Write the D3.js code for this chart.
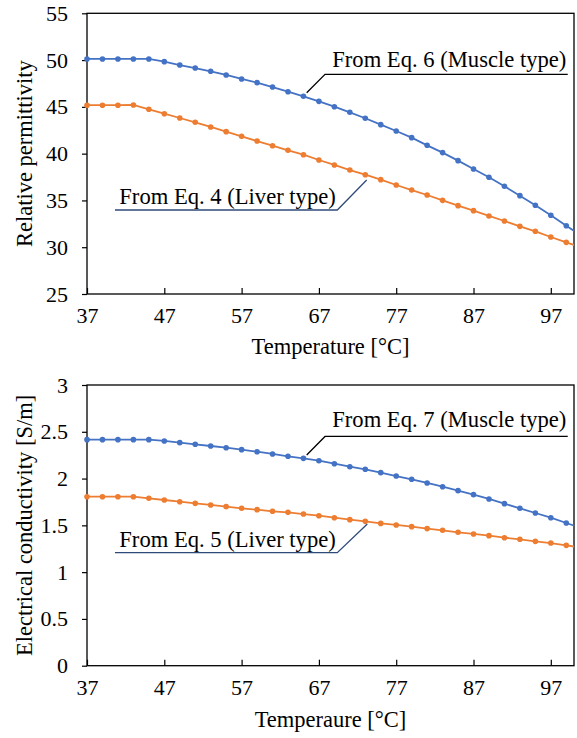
<!DOCTYPE html>
<html>
<head>
<meta charset="utf-8">
<script src="https://cdn.jsdelivr.net/npm/d3@7"></script>
<style>
  html, body { margin: 0; padding: 0; background: #fff; }
  svg { display: block; }
</style>
</head>
<body>
<svg id="chart" width="577" height="738"></svg>
<script>
// ---------- data ----------
const temps = [37,39,41,43,45,47,49,51,53,55,57,59,61,63,65,67,69,71,73,75,77,79,81,83,85,87,89,91,93,95,97,99,101];
const xTicks = [37,47,57,67,77,87,97];

const permMuscle = [50.12,50.12,50.12,50.12,50.12,49.83,49.47,49.15,48.80,48.41,47.98,47.59,47.12,46.62,46.13,45.59,45.02,44.42,43.78,43.10,42.42,41.71,40.89,40.11,39.25,38.36,37.47,36.51,35.51,34.48,33.41,32.30,31.20];
const permLiver  = [45.18,45.18,45.18,45.20,44.74,44.27,43.81,43.35,42.85,42.35,41.85,41.35,40.85,40.36,39.89,39.32,38.79,38.25,37.75,37.22,36.65,36.11,35.58,35.01,34.44,33.91,33.34,32.80,32.23,31.70,31.09,30.52,29.95];
const permTicks  = [25,30,35,40,45,50,55];

const condMuscle = [2.416,2.416,2.416,2.416,2.416,2.402,2.384,2.366,2.348,2.330,2.309,2.287,2.263,2.238,2.216,2.191,2.159,2.127,2.099,2.063,2.027,1.992,1.953,1.913,1.871,1.828,1.782,1.732,1.682,1.632,1.582,1.525,1.470];
const condLiver  = [1.806,1.806,1.806,1.806,1.789,1.771,1.753,1.735,1.718,1.700,1.682,1.668,1.650,1.639,1.621,1.603,1.582,1.561,1.543,1.521,1.504,1.486,1.465,1.447,1.426,1.408,1.390,1.368,1.351,1.329,1.311,1.286,1.262];
const condTicks  = [0,0.5,1,1.5,2,2.5,3];

const BLUE = "#4472C4", ORANGE = "#ED7D31";
const FONT = "'Liberation Serif', 'Times New Roman', 'DejaVu Serif', serif";

const svg = d3.select("#chart").attr("font-family", FONT);

function panel(cfg) {
  const left = 87, right = 574;
  const x = d3.scaleLinear().domain([37,100]).range([left,right]);
  const y = d3.scaleLinear().domain(cfg.yDomain).range([cfg.bottom, cfg.top]);
  const g = svg.append("g");

  const clipId = "clip" + cfg.id;
  svg.append("defs").append("clipPath").attr("id", clipId)
    .append("rect").attr("x", left - 4).attr("y", cfg.top)
    .attr("width", right - left + 4).attr("height", cfg.bottom - cfg.top);

  // y axis (outward ticks)
  const yAxis = g.append("g").attr("transform", `translate(${left},0)`)
    .call(d3.axisLeft(y).tickValues(cfg.yTicks).tickSize(5).tickPadding(14).tickFormat(d => String(d)));
  yAxis.attr("font-family", FONT).attr("font-size", 22);
  yAxis.select(".domain").remove();
  yAxis.selectAll("line").attr("stroke", "#000").attr("stroke-width", 1.2);
  yAxis.selectAll("text").style("font-family", FONT).style("font-size", "22px").attr("fill", "#000");

  // x axis (inward ticks)
  const xAxis = g.append("g").attr("transform", `translate(0,${cfg.bottom})`)
    .call(d3.axisBottom(x).tickValues(xTicks).tickSize(-6).tickPadding(14).tickFormat(d => String(d)));
  xAxis.attr("font-family", FONT).attr("font-size", 22);
  xAxis.select(".domain").remove();
  xAxis.selectAll("line").attr("stroke", "#000").attr("stroke-width", 1.2);
  xAxis.selectAll("text").style("font-family", FONT).style("font-size", "22px").attr("fill", "#000").attr("dy", "0.7em");

  // frame
  g.append("rect").attr("x", left).attr("y", cfg.top)
    .attr("width", right - left).attr("height", cfg.bottom - cfg.top)
    .attr("fill", "none").attr("stroke", "#000").attr("stroke-width", 1.3);

  // series
  const series = [{v: cfg.muscle, c: BLUE}, {v: cfg.liver, c: ORANGE}];
  const plot = g.append("g").attr("clip-path", `url(#${clipId})`);
  const line = d3.line().x((d,i) => x(temps[i])).y(d => y(d));
  series.forEach(s => {
    plot.append("path").datum(s.v).attr("d", line)
      .attr("fill", "none").attr("stroke", s.c).attr("stroke-width", 1.8);
    plot.selectAll(null).data(s.v).enter().append("circle")
      .attr("cx", (d,i) => x(temps[i])).attr("cy", d => y(d)).attr("r", 2.8)
      .attr("fill", s.c);
  });

  // annotations
  cfg.notes.forEach(n => {
    g.append("polyline")
      .attr("points", [[x(n.lx0), y(n.ly)], [x(n.lx1), y(n.ly)], [x(n.px), y(n.py)]].map(p => p.join(",")).join(" "))
      .attr("fill", "none").attr("stroke", n.color).attr("stroke-width", 1.3);
    g.append("text").attr("x", x(n.tx)).attr("y", y(n.ty))
      .style("font-family", FONT).style("font-size", "22.6px").text(n.text);
  });

  // axis titles
  g.append("text").attr("x", (left + right) / 2).attr("y", cfg.xTitleY)
    .attr("text-anchor", "middle").style("font-family", FONT).style("font-size", "22.5px").text(cfg.xTitle);
  g.append("text")
    .attr("transform", `translate(${cfg.yTitleX},${(cfg.top + cfg.bottom) / 2}) rotate(-90)`)
    .attr("text-anchor", "middle").style("font-family", FONT).style("font-size", "22.5px").text(cfg.yTitle);
}

panel({
  id: 1, top: 13.3, bottom: 294, yDomain: [25,55], yTicks: permTicks,
  muscle: permMuscle, liver: permLiver,
  xTitle: "Temperature [°C]", xTitleY: 354,
  yTitle: "Relative permittivity", yTitleX: 32,
  notes: [
    {text: "From Eq. 6 (Muscle type)", tx: 68.73, ty: 49.26, lx0: 99.19, lx1: 67.79, ly: 48.48, px: 65.42, py: 46.51, color: "#000"},
    {text: "From Eq. 4 (Liver type)", tx: 41.18, ty: 34.62, lx0: 40.62, lx1: 69.38, ly: 33.98, px: 73.18, py: 37.19, color: "#2E4A7A"}
  ]
});

panel({
  id: 2, top: 385, bottom: 665.7, yDomain: [0,3], yTicks: condTicks,
  muscle: condMuscle, liver: condLiver,
  xTitle: "Temperaure [°C]", xTitleY: 727,
  yTitle: "Electrical conductivity [S/m]", yTitleX: 32,
  notes: [
    {text: "From Eq. 7 (Muscle type)", tx: 68.73, ty: 2.551, lx0: 99.19, lx1: 67.79, ly: 2.450, px: 65.42, py: 2.252, color: "#000"},
    {text: "From Eq. 5 (Liver type)", tx: 41.18, ty: 1.272, lx0: 40.62, lx1: 69.38, ly: 1.208, px: 73.26, py: 1.514, color: "#2E4A7A"}
  ]
});
</script>
</body>
</html>
